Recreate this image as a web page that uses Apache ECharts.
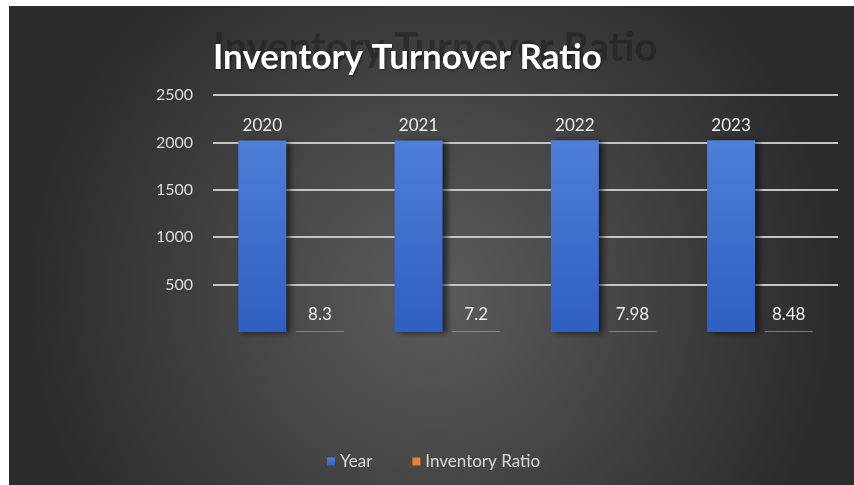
<!DOCTYPE html>
<html>
<head>
<meta charset="utf-8">
<script src="https://cdn.jsdelivr.net/npm/echarts@6/dist/echarts.min.js"></script>
<style>
html,body{margin:0;padding:0;background:#fff;width:854px;height:485px;overflow:hidden;}
#chart{position:absolute;left:9px;top:6px;width:845px;height:479px;}
</style>
</head>
<body>
<div id="chart"></div>
<script>
const categories = ['2020', '2021', '2022', '2023'];
const yearValues = [2020, 2021, 2022, 2023];
const ratioValues = [8.3, 7.2, 7.98, 8.48];
const seriesNames = ['Year', 'Inventory Ratio'];
const titleText = 'Inventory Turnover Ratio';

const chart = echarts.init(document.getElementById('chart'), null, {renderer: 'canvas'});
const font = 'Lato, "Open Sans", sans-serif';
chart.setOption({
  animation: false,
  backgroundColor: {
    type: 'radial', x: 0.5, y: 0.6, r: 0.85,
    colorStops: [
      {offset: 0, color: '#5c5c5c'},
      {offset: 1, color: '#2b2b2b'}
    ]
  },
  title: {
    text: titleText,
    left: 199, top: 29,
    textStyle: {color: '#ffffff', fontSize: 35, fontWeight: 'bold', fontFamily: font,
      textShadowColor: 'rgba(0,0,0,0.5)', textShadowBlur: 3, textShadowOffsetX: 1, textShadowOffsetY: 1}
  },
  graphic: [{
    type: 'text', left: 204, top: 22, z: 1, silent: true,
    style: {text: titleText, fill: 'rgba(25,25,25,0.45)', font: 'bold 40px ' + font}
  }],
  legend: {
    data: seriesNames,
    left: 313, bottom: 10,
    itemWidth: 8, itemHeight: 8, itemGap: 40, icon: 'rect',
    textStyle: {color: '#d9d9d9', fontSize: 17, fontFamily: font}
  },
  grid: {left: 204, right: 16, top: 89, bottom: 153},
  xAxis: {
    type: 'category', data: categories,
    axisLine: {show: false}, axisTick: {show: false}, axisLabel: {show: false}
  },
  yAxis: {
    type: 'value', min: 0, max: 2500, interval: 500,
    axisLine: {show: false}, axisTick: {show: false},
    axisLabel: {color: '#dedede', fontSize: 16, fontFamily: font, margin: 20,
      formatter: v => v === 0 ? '' : String(v)},
    splitLine: {showMinLine: false, lineStyle: {color: '#c4c4c4', width: 2}}
  },
  series: [{
    name: seriesNames[0], type: 'bar', data: yearValues,
    barWidth: 48, barGap: '20%',
    itemStyle: {
      color: {type: 'linear', x: 0, y: 0, x2: 0, y2: 1,
        colorStops: [{offset: 0, color: '#4d7fd8'}, {offset: 1, color: '#2e5fc2'}]},
      shadowColor: 'rgba(0,0,0,0.6)', shadowBlur: 6, shadowOffsetX: 4, shadowOffsetY: 1
    },
    label: {show: true, position: 'top', distance: 6, color: '#ececec', fontSize: 17, fontFamily: font}
  }, {
    name: seriesNames[1], type: 'bar', data: ratioValues,
    barWidth: 48,
    itemStyle: {color: '#ed7d31'},
    label: {show: true, position: 'top', distance: 8, color: '#ececec', fontSize: 17, fontFamily: font}
  }]
});
</script>
</body>
</html>
